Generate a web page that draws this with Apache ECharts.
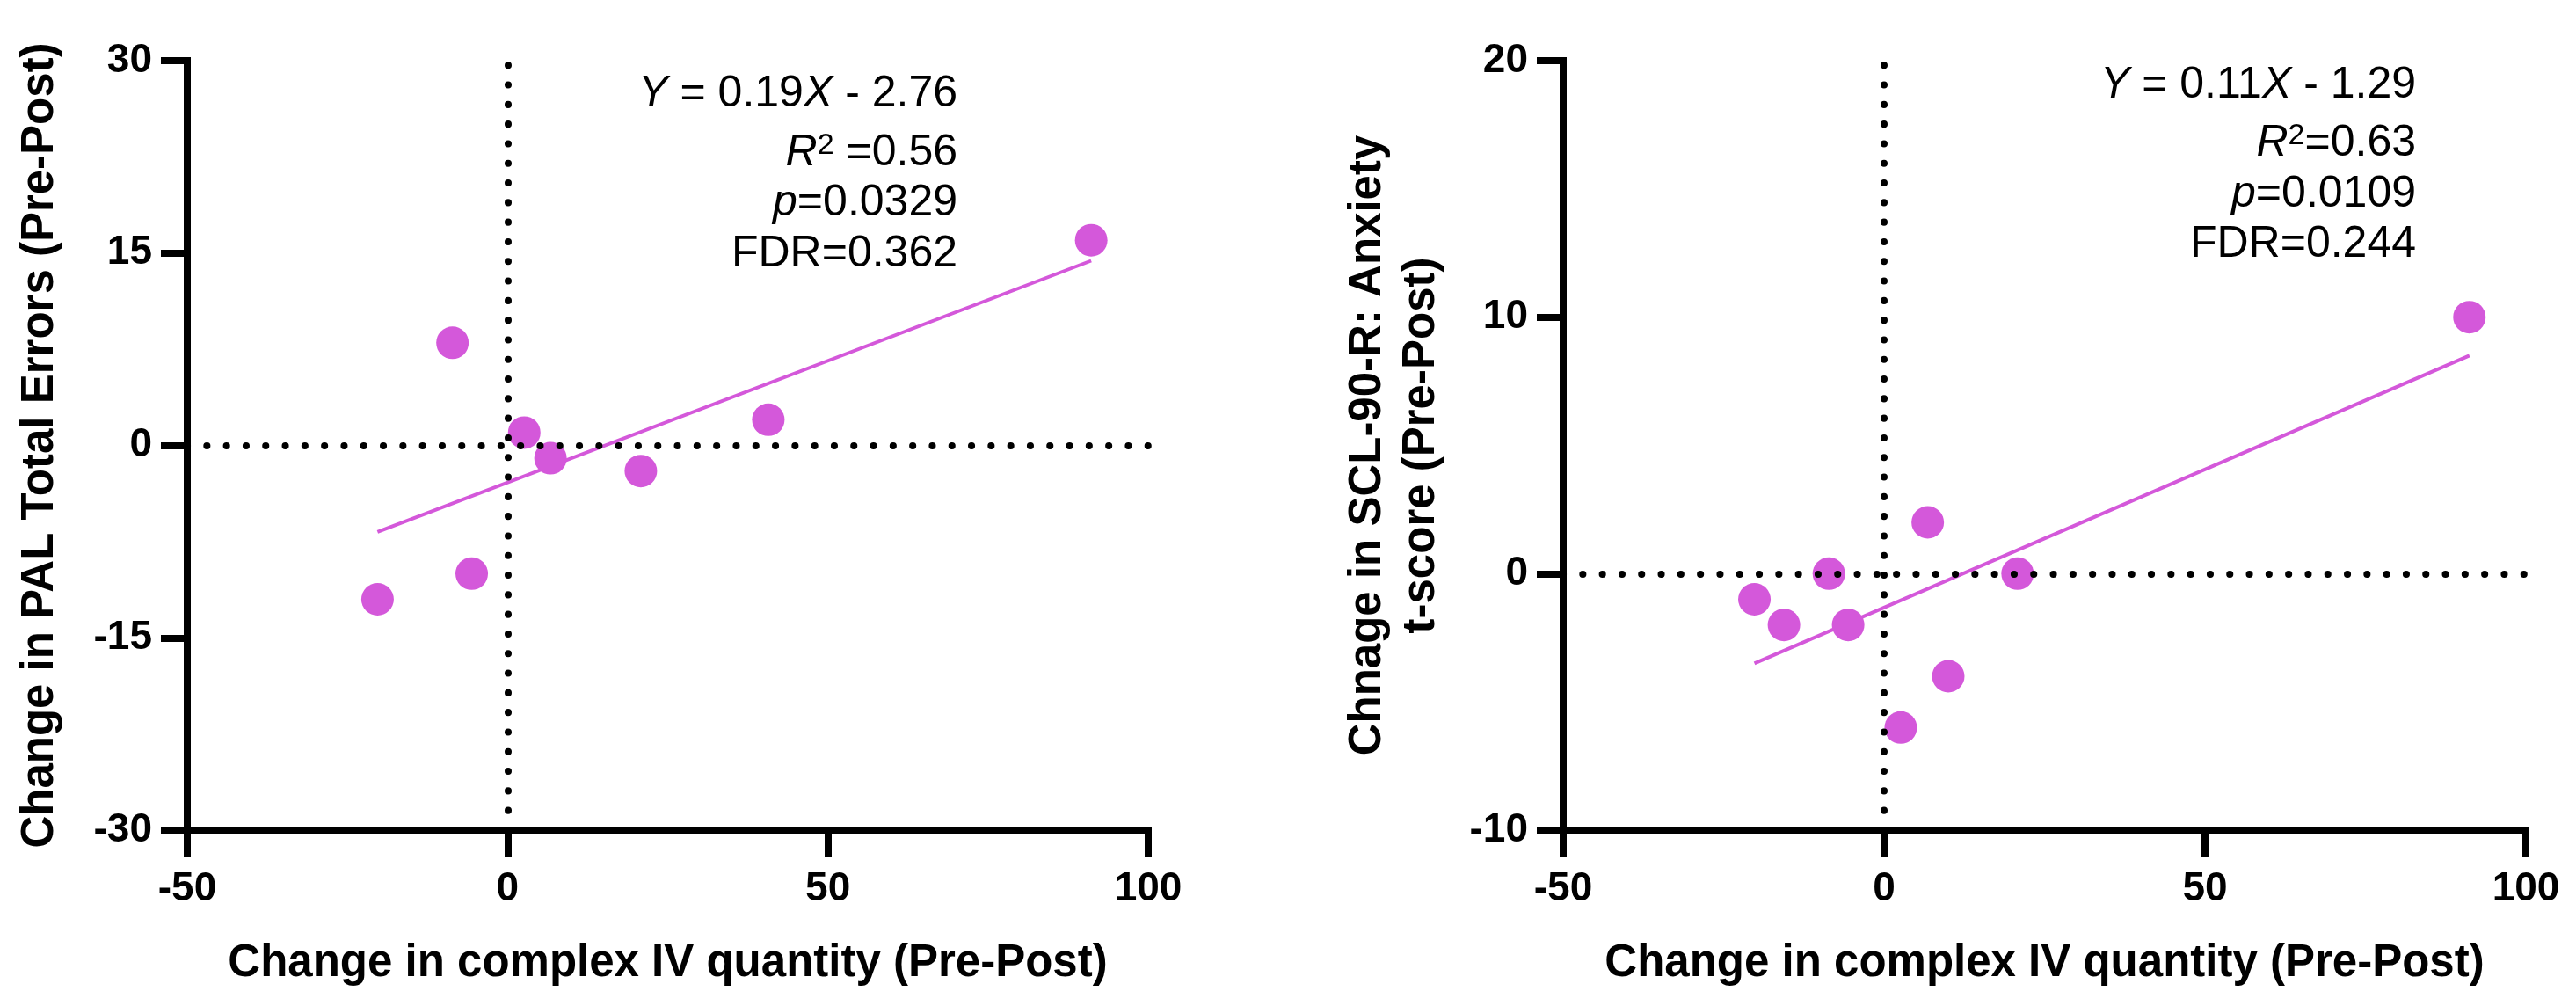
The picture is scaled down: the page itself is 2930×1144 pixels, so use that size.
<!DOCTYPE html>
<html><head><meta charset="utf-8">
<script src="https://cdn.jsdelivr.net/npm/echarts@6/dist/echarts.min.js"></script>
<style>html,body{margin:0;padding:0;background:#fff}#c{width:2930px;height:1144px}</style>
</head><body><div id="c"></div>
<script>
// ---- data ----
const xAxisTitle = 'Change in complex IV quantity (Pre-Post)';
const palTitle = 'Change in PAL Total Errors (Pre-Post)';
const sclTitle = 'Chnage in SCL-90-R: Anxiety\nt-score (Pre-Post)';

const palX = [-20.3, -8.6, -5.6, 2.6, 6.7, 20.8, 40.7, 91.1];
const palY = [-12, 8, -10, 1, -1, -2, 2, 16];
const palFitX = [-20.3, 91.1];
const palFitY = [-6.75, 14.4];

const sclX = [-20.2, -15.6, -8.6, -5.6, 2.6, 6.8, 10.0, 20.8, 91.2];
const sclY = [-1, -2, 0, -2, -6, 2, -4, 0, 10];
const sclFitX = [-20.2, 91.2];
const sclFitY = [-3.5, 8.5];

const palStats = { slope: '0.19', intercept: '2.76', r2: '0.56', p: '0.0329', fdr: '0.362' };
const sclStats = { slope: '0.11', intercept: '1.29', r2: '0.63', p: '0.0109', fdr: '0.244' };

// ---- styling ----
const F = '"Liberation Sans", Arial, Helvetica, sans-serif';
const PINK = '#D458DA';
const zip = (a, b) => a.map((v, i) => [v, b[i]]);

function xAxisCfg(gi) {
  return {
    type: 'value', gridIndex: gi, min: -50, max: 100, interval: 50,
    name: xAxisTitle, nameLocation: 'middle', nameGap: 126, nameMoveOverlap: false,
    nameTextStyle: { fontFamily: F, fontWeight: 'bold', fontSize: 51, color: '#000' },
    axisLine: { show: true, onZero: false, lineStyle: { color: '#000', width: 8, cap: 'square' } },
    axisTick: { show: true, length: 30, lineStyle: { color: '#000', width: 8 } },
    axisLabel: { fontFamily: F, fontWeight: 'bold', fontSize: 46, color: '#000', margin: 44 },
    splitLine: { show: false }
  };
}
function yAxisCfg(gi, min, max, interval, name, gap, lh) {
  return {
    type: 'value', gridIndex: gi, min: min, max: max, interval: interval,
    name: name, nameLocation: 'middle', nameGap: gap, nameRotate: 90, nameMoveOverlap: false,
    nameTextStyle: { fontFamily: F, fontWeight: 'bold', fontSize: 51, color: '#000', lineHeight: lh, align: 'center' },
    axisLine: { show: true, onZero: false, lineStyle: { color: '#000', width: 8, cap: 'square' } },
    axisTick: { show: true, length: 30, lineStyle: { color: '#000', width: 8 } },
    axisLabel: { fontFamily: F, fontWeight: 'bold', fontSize: 46, color: '#000', margin: 40 },
    splitLine: { show: false }
  };
}
const zeroLines = {
  silent: true, symbol: 'none', label: { show: false },
  lineStyle: { color: '#000', width: 8, type: [0.1, 22.2], cap: 'round' },
  data: [{ xAxis: 0 }, { yAxis: 0 }]
};

function statsText(s, rx, base, sep) {
  const reg = { fontFamily: F, fontSize: 50, fontStyle: 'normal', fill: '#000' };
  const it = { fontFamily: F, fontSize: 50, fontStyle: 'italic', fill: '#000' };
  const sup = { fontFamily: F, fontSize: 34, fontStyle: 'normal', fill: '#000', verticalAlign: 'top', lineHeight: 34 };
  const mk = (txt, y) => ({
    type: 'text', x: rx, y: y - 16, z: 10, silent: true,
    style: { text: txt, align: 'right', verticalAlign: 'middle', fontFamily: F, fontSize: 50, fill: '#000',
      rich: { r: reg, i: it, s: sup } }
  });
  return [
    mk('{i|Y}{r| = ' + s.slope + '}{i|X}{r| - ' + s.intercept + '}', base[0]),
    mk('{i|R}{s|2}{r|' + sep + '=' + s.r2 + '}', base[1]),
    mk('{i|p}{r|=' + s.p + '}', base[2]),
    mk('{r|FDR=' + s.fdr + '}', base[3])
  ];
}

const chart = echarts.init(document.getElementById('c'), null, { renderer: 'canvas' });
chart.setOption({
  animation: false,
  backgroundColor: '#fff',
  grid: [
    { left: 213, right: 1624, top: 69, bottom: 200, outerBoundsMode: 'none', containLabel: false },
    { left: 1778, right: 57, top: 69, bottom: 200, outerBoundsMode: 'none', containLabel: false }
  ],
  xAxis: [xAxisCfg(0), xAxisCfg(1)],
  yAxis: [
    yAxisCfg(0, -30, 30, 15, palTitle, 137, 60),
    yAxisCfg(1, -10, 20, 10, sclTitle, 131, 61)
  ],
  series: [
    { type: 'line', xAxisIndex: 0, yAxisIndex: 0, data: zip(palFitX, palFitY), symbol: 'none', z: 2,
      lineStyle: { color: PINK, width: 4 }, markLine: zeroLines },
    { type: 'scatter', xAxisIndex: 0, yAxisIndex: 0, data: zip(palX, palY), symbolSize: 37, z: 3,
      itemStyle: { color: PINK, opacity: 1 } },
    { type: 'line', xAxisIndex: 1, yAxisIndex: 1, data: zip(sclFitX, sclFitY), symbol: 'none', z: 2,
      lineStyle: { color: PINK, width: 4 }, markLine: zeroLines },
    { type: 'scatter', xAxisIndex: 1, yAxisIndex: 1, data: zip(sclX, sclY), symbolSize: 37, z: 3,
      itemStyle: { color: PINK, opacity: 1 } }
  ],
  graphic: [].concat(
    statsText(palStats, 1089, [123, 190, 247, 305], ' '),
    statsText(sclStats, 2748, [113, 179, 237, 294], '')
  )
});
</script></body></html>
